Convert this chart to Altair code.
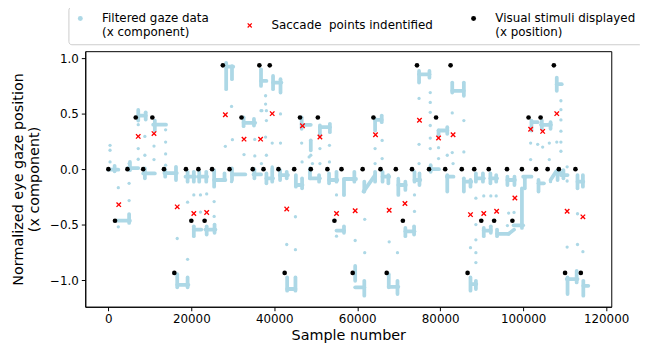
import altair as alt
import pandas as pd

# ---------------- data ----------------
# visual stimuli (x position)
stim_x = [0, 1600, 4600, 6600, 8400, 10600, 13400, 15900, 18700, 20000, 21700, 23200,
          25000, 27600, 29200, 32100, 34800, 36400, 37400, 38900, 41000, 42500, 44800,
          46200, 48800, 50500, 52800, 54500, 56200, 58900, 61300, 63900, 65600, 67100,
          69300, 71000, 73200, 74400, 77300, 79000, 81200, 82500, 85200, 86600, 88200,
          89900, 91700, 93000, 96100, 97400, 99700, 101300, 103100, 104200, 105900,
          107400, 108600, 110100, 112600, 113900]
stim_y = [0, -0.465, 0, 0.465, 0, 0.465, 0, -0.935, 0, -0.465, 0, -0.465,
          0, 0.935, 0, 0.465, 0, 0.935, 0, 0.935, 0, -0.935, 0,
          0.465, 0, 0.465, 0, -0.465, 0, -0.935, 0, 0.465, 0, -0.935,
          0, -0.465, 0, 0.935, 0, 0.465, 0, 0.935, 0, -0.935, 0,
          -0.465, 0, -0.465, 0, -0.465, 0, 0.465, 0, 0.465, 0,
          0.935, 0, -0.935, 0, -0.935]

# saccade points identified
sacc_x = [2500, 7200, 11000, 16600, 20600, 23700, 28200, 32700, 36700, 39500, 43000,
          46800, 51000, 55000, 59500, 64400, 67700, 71500, 75000, 79600, 83100, 87300,
          90500, 93600, 98000, 101800, 104700, 108100, 110600, 114400]
sacc_y = [-0.32, 0.295, 0.32, -0.34, -0.40, -0.39, 0.49, 0.27, 0.27, 0.50, -0.36,
          0.39, 0.29, -0.40, -0.375, 0.31, -0.37, -0.31, 0.44, 0.28, 0.31, -0.41,
          -0.40, -0.38, -0.26, 0.36, 0.34, 0.50, -0.38, -0.43]

# filtered gaze data: fixation stretches (horizontal)
h_x0 = [0, 2000, 4600, 7300, 8400, 10800, 13500, 16600, 18600, 20600, 21700, 23400,
        25500, 28500, 29800, 32600, 35000, 36800, 38100, 39700, 41300, 43100, 45200,
        46600, 48600, 51000, 53200, 55000, 56800, 59500, 64300, 66100, 67600, 69900,
        71600, 73800, 74900, 77400, 79600, 81600, 82900, 85700, 87500, 88600, 90500,
        92100, 93700, 96200, 97700, 100000, 102100, 103700, 104300, 107900, 108100,
        109100, 110500, 113100, 114500]
h_x1 = [2400, 5200, 7200, 9000, 11200, 13900, 16500, 19300, 20900, 22400, 23800, 25800,
        28200, 30100, 33000, 35400, 36800, 38100, 39700, 41700, 43300, 45100, 46800,
        48800, 51000, 53400, 55200, 56800, 59700, 61700, 65900, 67700, 69900, 71700,
        73800, 75200, 77400, 79700, 81700, 83200, 85700, 87500, 88700, 90500, 92200,
        93700, 96500, 98000, 100000, 102000, 103500, 105000, 106700, 109100, 109300,
        110700, 113100, 114500, 115700]
h_y = [-0.005, -0.464, 0.01, 0.482, -0.039, 0.40, -0.036, -1.042, -0.068, -0.545,
       -0.068, -0.545, -0.098, 0.923, -0.048, 0.417, -0.048, 0.795, -0.083, 0.78,
       -0.054, -1.08, -0.143, 0.399, -0.083, 0.378, -0.098, -0.554, -0.089, -1.065,
       0.443, -0.068, -1.06, -0.143, -0.56, -0.098, 0.854, 0.0, 0.348, -0.068, 0.705,
       -0.113, -1.036, -0.083, -0.554, -0.083, -0.583, -0.098, -0.506, -0.068, 0.423,
       -0.128, 0.399, -0.03, 0.765, -0.054, -0.991, -0.113, -1.051]

# filtered gaze data: vertical stretches (drift / transitions)
v_x = [1500, 5000, 5200, 7200, 9000, 8800, 11200, 13700, 16300, 16600, 19100, 19100,
       20600, 20600, 21900, 23600, 23700, 25600, 25500, 28000, 28400, 29800, 29800,
       32600, 35100, 35200, 36800, 38100, 39500, 39700, 41500, 41400, 43000, 43100,
       45100, 45200, 46700, 46600, 48800, 48600, 50800, 51000, 53400, 53200, 55000,
       56800, 56800, 59300, 59500, 61700, 61700, 64300, 64300, 65900, 66100, 67500,
       67600, 69700, 69900, 71600, 71600, 73700, 73800, 75000, 74900, 77400, 77700,
       79600, 81700, 81700, 82900, 85700, 85700, 87300, 87300, 88600, 88600, 90300,
       90500, 92200, 92100, 93500, 93700, 96200, 97900, 99700, 100400, 102000, 103700,
       104500, 106600, 108300, 108100, 109700, 110700, 112900, 113100, 114400, 114500]
v_y0 = [0.03, -0.405, 0.065, 0.533, 0.512, 0.006, 0.4375, 0.0, 0.021, -0.946, -0.976,
        -0.024, -0.024, -0.515, -0.024, -0.024, -0.515, -0.5, -0.009, -0.039, 0.958,
        0.929, 0.006, 0.467, 0.452, 0.0, 0.899, -0.039, 0.006, 0.839, 0.81, -0.009,
        -0.024, -0.976, -0.976, -0.054, -0.083, 0.467, 0.26, 0.006, -0.054, 0.393,
        0.408, -0.039, -0.024, -0.515, -0.232, -0.024, -0.872, -1.006, -0.113, -0.024,
        0.452, 0.482, -0.024, -0.054, -0.946, -1.006, -0.098, -0.113, -0.53, -0.515,
        -0.024, -0.039, 0.884, 0.884, 0.036, 0.348, 0.378, -0.054, 0.78, 0.78, -0.083,
        -0.098, -0.976, -1.006, -0.039, -0.039, -0.53, -0.515, -0.039, -0.054, -0.545,
        -0.068, -0.068, -0.53, -0.083, 0.4375, -0.098, 0.4375, 0.423, -0.009, 0.824,
        -0.009, -0.976, -0.917, -0.054, -0.054, -1.006]
v_y1 = [-0.02, -0.485, -0.01, 0.4375, 0.446, -0.083, 0.348, -0.068, -0.098, -1.065,
        -1.065, -0.113, -0.113, -0.604, -0.113, -0.113, -0.589, -0.574, -0.158, -0.098,
        0.72, 0.81, -0.098, 0.387, 0.393, -0.083, 0.75, -0.128, -0.113, 0.72, 0.69,
        -0.098, -0.083, -1.095, -1.095, -0.158, -0.173, 0.363, 0.17, -0.083, -0.113,
        0.304, 0.333, -0.128, -0.113, -0.574, -0.098, -0.113, -1.006, -1.14, -0.202,
        -0.113, 0.348, 0.423, -0.113, -0.128, -1.065, -1.125, -0.232, -0.1875, -0.604,
        -0.589, -0.113, -0.143, 0.78, 0.824, -0.024, 0.304, 0.318, -0.202, 0.69, 0.661,
        -0.202, -0.158, -1.095, -1.08, -0.113, -0.113, -0.604, -0.574, -0.128, -0.113,
        -0.604, -0.143, -0.143, -0.173, -0.173, 0.348, -0.202, 0.363, 0.363, -0.098,
        0.705, -0.083, -1.125, -1.021, -0.173, -0.158, -1.14]

# filtered gaze data: sloped stretches
d_x0 = [61500, 96500, 106600]
d_y0 = [-0.202, -0.583, -0.098]
d_x1 = [64300, 97800, 107900]
d_y1 = [-0.054, -0.545, -0.024]

# filtered gaze data: isolated samples
gaze_x = [400, 400, 400, 2400, 2400, 5000, 5000, 5000,
          7200, 7200, 7200, 8800, 8800, 11000, 11000, 13800, 13800, 13800, 13800,
          16600, 19100, 19100, 20600, 22200, 23700, 22200, 25500, 25500,
          29700, 28200, 29700, 29900, 32700, 35300, 36800, 35300,
          37900, 37900, 38100, 38100, 37000, 41500, 39500, 41500, 37900, 38100, 36900, 39500,
          43000, 45100, 45100, 46700, 46600, 48800, 48400, 49200,
          51000, 51000, 53300, 53300, 55000, 56800, 55000,
          59500, 61800, 61800, 64300, 64300, 66000, 66000,
          67700, 69700, 69900, 73800, 73800,
          74900, 74900, 74900, 77600, 77600, 77600, 77600, 77600, 77600,
          79600, 79600, 81700, 82900, 82900, 85700, 85700, 83100,
          87300, 88600, 88600, 88600, 88600, 88600, 90500, 92200, 93500,
          96500, 97800, 96200,
          101800, 101800, 103500, 104700, 106300, 106300, 106600,
          109100, 109100, 109100, 109100, 109100, 109100, 108100,
          110600, 110600, 110600, 113100, 113100, 114400]
gaze_y = [0.214, 0.17, 0.065, -0.167, -0.52, -0.128, -0.283, 0.05,
          0.40, 0.185, 0.089, 0.295, 0.125, 0.208, 0.086, 0.354, 0.244, 0.137, 0.036,
          -0.625, -0.8125, -0.298, -0.232, -0.232, -0.223, -0.387, -0.292, -0.426,
          0.565, 0.205, -0.113, 0.265, 0.131, 0.119, 0.527, 0.268,
          0.661, 0.586, 0.527, 0.4375, 0.527, 0.497, 0.235, 0.235, 0.289, 0.125, 0.05, 0.021,
          -0.679, -0.726, -0.429, 0.065, 0.235, 0.125, 0.11, 0.05,
          0.185, 0.05, 0.214, 0.065, -0.232, -0.232, -0.604,
          -0.643, -0.452, -0.753, 0.185, 0.05, 0.259, 0.095,
          -0.655, -0.753, -0.083, -0.232, -0.381,
          0.05, 0.223, 0.637, 0.69, 0.601, 0.512, 0.393, 0.28, 0.185,
          0.193, 0.095, 0.125, 0.149, 0.506, 0.4375, 0.155, 0.05,
          -0.708, -0.753, -0.842, -0.5, -0.637, -0.262, -0.241, -0.241, -0.241,
          -0.396, -0.39, -0.509,
          0.235, 0.086, 0.223, 0.199, 0.235, 0.086, -0.113,
          0.616, 0.536, 0.443, 0.342, 0.244, 0.161, 0.244,
          0.021, -0.107, -0.702, -0.679, -0.402, -0.744]

series_names = ["Filtered gaze data|(x component)",
                "Saccade\u00a0 points indentified",
                "Visual stimuli displayed|\u00a0(x position)"]
x_ticks = [0, 20000, 40000, 60000, 80000, 100000, 120000]
y_ticks = [-1.0, -0.5, 0.0, 0.5, 1.0]

# ---------------- chart ----------------
FONT = "DejaVu Sans"
BLUE, RED, BLACK = "#add8e6", "#ff0000", "#000000"
X_SHAPE = ("M-1,-0.65L-0.65,-1L0,-0.35L0.65,-1L1,-0.65L0.35,0L1,0.65L0.65,1"
           "L0,0.35L-0.65,1L-1,0.65L-0.35,0Z")

seg_df = pd.DataFrame({
    "x": h_x0 + v_x + d_x0,
    "x2": h_x1 + v_x + d_x1,
    "y": h_y + v_y0 + d_y0,
    "y2": h_y + v_y1 + d_y1,
})
gaze_df = pd.DataFrame({"x": gaze_x, "y": gaze_y, "series": series_names[0]})
sacc_df = pd.DataFrame({"x": sacc_x, "y": sacc_y, "series": series_names[1]})
stim_df = pd.DataFrame({"x": stim_x, "y": stim_y, "series": series_names[2]})

xs = alt.Scale(domain=[-5570, 121240], nice=False, zero=False)
ys = alt.Scale(domain=[-1.24, 1.0625], nice=False, zero=False)

x_axis = alt.Axis(values=x_ticks, format="d", title="Sample number",
                  labelFontSize=12, titleFontSize=14.5, labelPadding=3, titlePadding=4)
y_axis = alt.Axis(values=y_ticks, title=["Normalized eye gaze position", "(x component)"],
                  labelExpr="replace(format(datum.value, '.1f'), '-', '\u2212')",
                  labelFontSize=12, titleFontSize=14.5, labelPadding=3, titlePadding=8)

X = alt.X("x:Q", scale=xs, axis=x_axis)
Y = alt.Y("y:Q", scale=ys, axis=y_axis)

legend = alt.Legend(
    title=None, orient="none", legendX=-17, legendY=-45, direction="horizontal",
    labelExpr="split(datum.label, '|')", labelFont=FONT, labelFontSize=12,
    labelColor="black", symbolSize=25, symbolStrokeWidth=0, symbolOpacity=1,
    labelOffset=16, columnPadding=35, padding=6, strokeColor="#cccccc",
    cornerRadius=3, fillColor="white", labelLimit=300,
)
color = alt.Color("series:N", scale=alt.Scale(domain=series_names, range=[BLUE, RED, BLACK]),
                  legend=legend)
shape = alt.Shape("series:N", scale=alt.Scale(domain=series_names,
                                              range=["circle", X_SHAPE, "circle"]),
                  legend=legend)

segs = alt.Chart(seg_df).mark_rule(color=BLUE, strokeWidth=3.8, strokeCap="round").encode(
    x=X, x2="x2:Q", y=Y, y2="y2:Q")
gaze = alt.Chart(gaze_df).mark_point(filled=True, size=11, opacity=1, strokeWidth=0).encode(
    x=X, y=Y, color=color, shape=shape)
sacc = alt.Chart(sacc_df).mark_point(filled=True, size=30, opacity=1, strokeWidth=0).encode(
    x=X, y=Y, color=color, shape=shape)
stim = alt.Chart(stim_df).mark_point(filled=True, size=22, opacity=1, strokeWidth=0).encode(
    x=X, y=Y, color=color, shape=shape)

chart = alt.layer(segs, gaze, sacc, stim).properties(
    width=531, height=258,
    padding={"left": 78, "top": 42, "right": 29, "bottom": 37},
    autosize=alt.AutoSizeParams(type="none"),
).configure_view(stroke="black", strokeWidth=1).configure_axis(
    grid=False, domainColor="black", tickColor="black", labelColor="black",
    titleColor="black", labelFont=FONT, titleFont=FONT, titleFontWeight="normal",
    tickSize=4, domainWidth=1, tickWidth=1,
)

chart.save("out.html", embed_options={"renderer": "svg", "actions": False})
